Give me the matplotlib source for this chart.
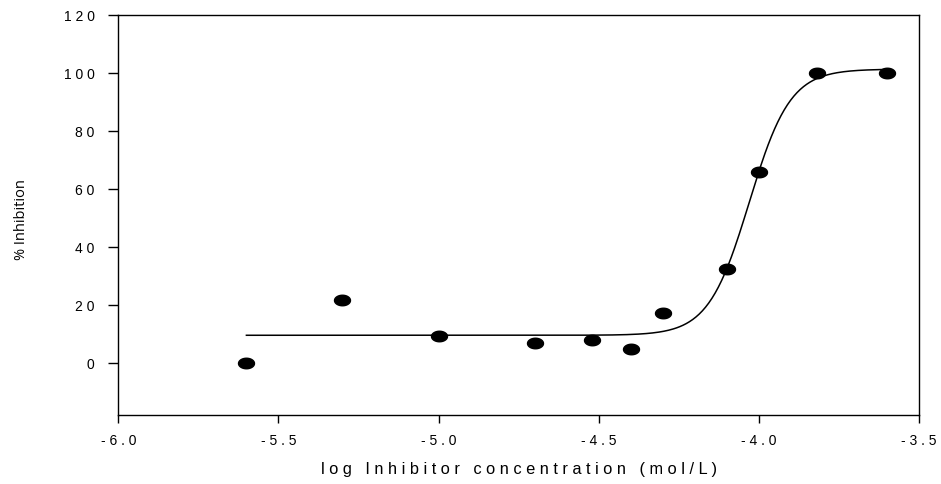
import numpy as np
from matplotlib import pyplot as plt
from matplotlib.path import Path

# measured points
log_conc = [-5.6, -5.3, -5.0, -4.7, -4.52, -4.4, -4.3, -4.1, -4.0, -3.82, -3.6]
inhibition = [0.0, 22.0, 9.5, 7.0, 8.0, 5.0, 17.5, 32.5, 66.0, 100.0, 100.0]

# sigmoidal fit parameters (4PL)
fit_bottom = 9.7
fit_top = 101.5
fit_logec50 = -4.03
fit_hill = 6.8

x_ticks = [-6.0, -5.5, -5.0, -4.5, -4.0, -3.5]
y_ticks = [0, 20, 40, 60, 80, 100, 120]


def spaced(s: str) -> str:
    return ' '.join(s)


def four_pl(x):
    return fit_bottom + (fit_top - fit_bottom) / (1 + 10 ** ((fit_logec50 - x) * fit_hill))


fig = plt.figure(figsize=(9.41, 4.84), dpi=100)
ax = fig.add_axes([118.3 / 941, 1 - 415 / 484, (919 - 118.3) / 941, (415 - 15.5) / 484])

xf = np.linspace(min(log_conc), max(log_conc), 400)
ax.plot(xf, four_pl(xf), color='black', lw=1.1, zorder=2)

t = np.linspace(0, 2 * np.pi, 60)
ellipse = Path(np.column_stack([np.cos(t), 0.66 * np.sin(t)]))
ax.plot(log_conc, inhibition, ls='none', marker=ellipse, ms=11.5, color='black', zorder=3)

ax.set_xlim(-6.0, -3.5)
ax.set_ylim(-17.8, 120)
ax.set_xticks(x_ticks)
ax.set_yticks(y_ticks)
ax.set_xticklabels([spaced(f'{v:.1f}') for v in x_ticks], family='Liberation Sans', fontsize=10)
ax.set_yticklabels([spaced(f'{v:d}') for v in y_ticks], family='Liberation Sans', fontsize=10)
ax.tick_params(axis='x', direction='out', length=6, width=1, pad=8)
ax.tick_params(axis='y', direction='out', length=7, width=1, pad=10)
for sp in ax.spines.values():
    sp.set_linewidth(1)

ax.set_xlabel(spaced('log') + '   ' + spaced('Inhibitor') + '   ' + spaced('concentration')
              + '   ' + spaced('(mol/L)'), family='Liberation Sans', fontsize=11.8, labelpad=10)
ax.set_ylabel('% Inhibition', family='Open Sans', fontsize=10.5)
ax.yaxis.set_label_coords(-0.111, 0.49)

fig.savefig('out.png', dpi=100)
